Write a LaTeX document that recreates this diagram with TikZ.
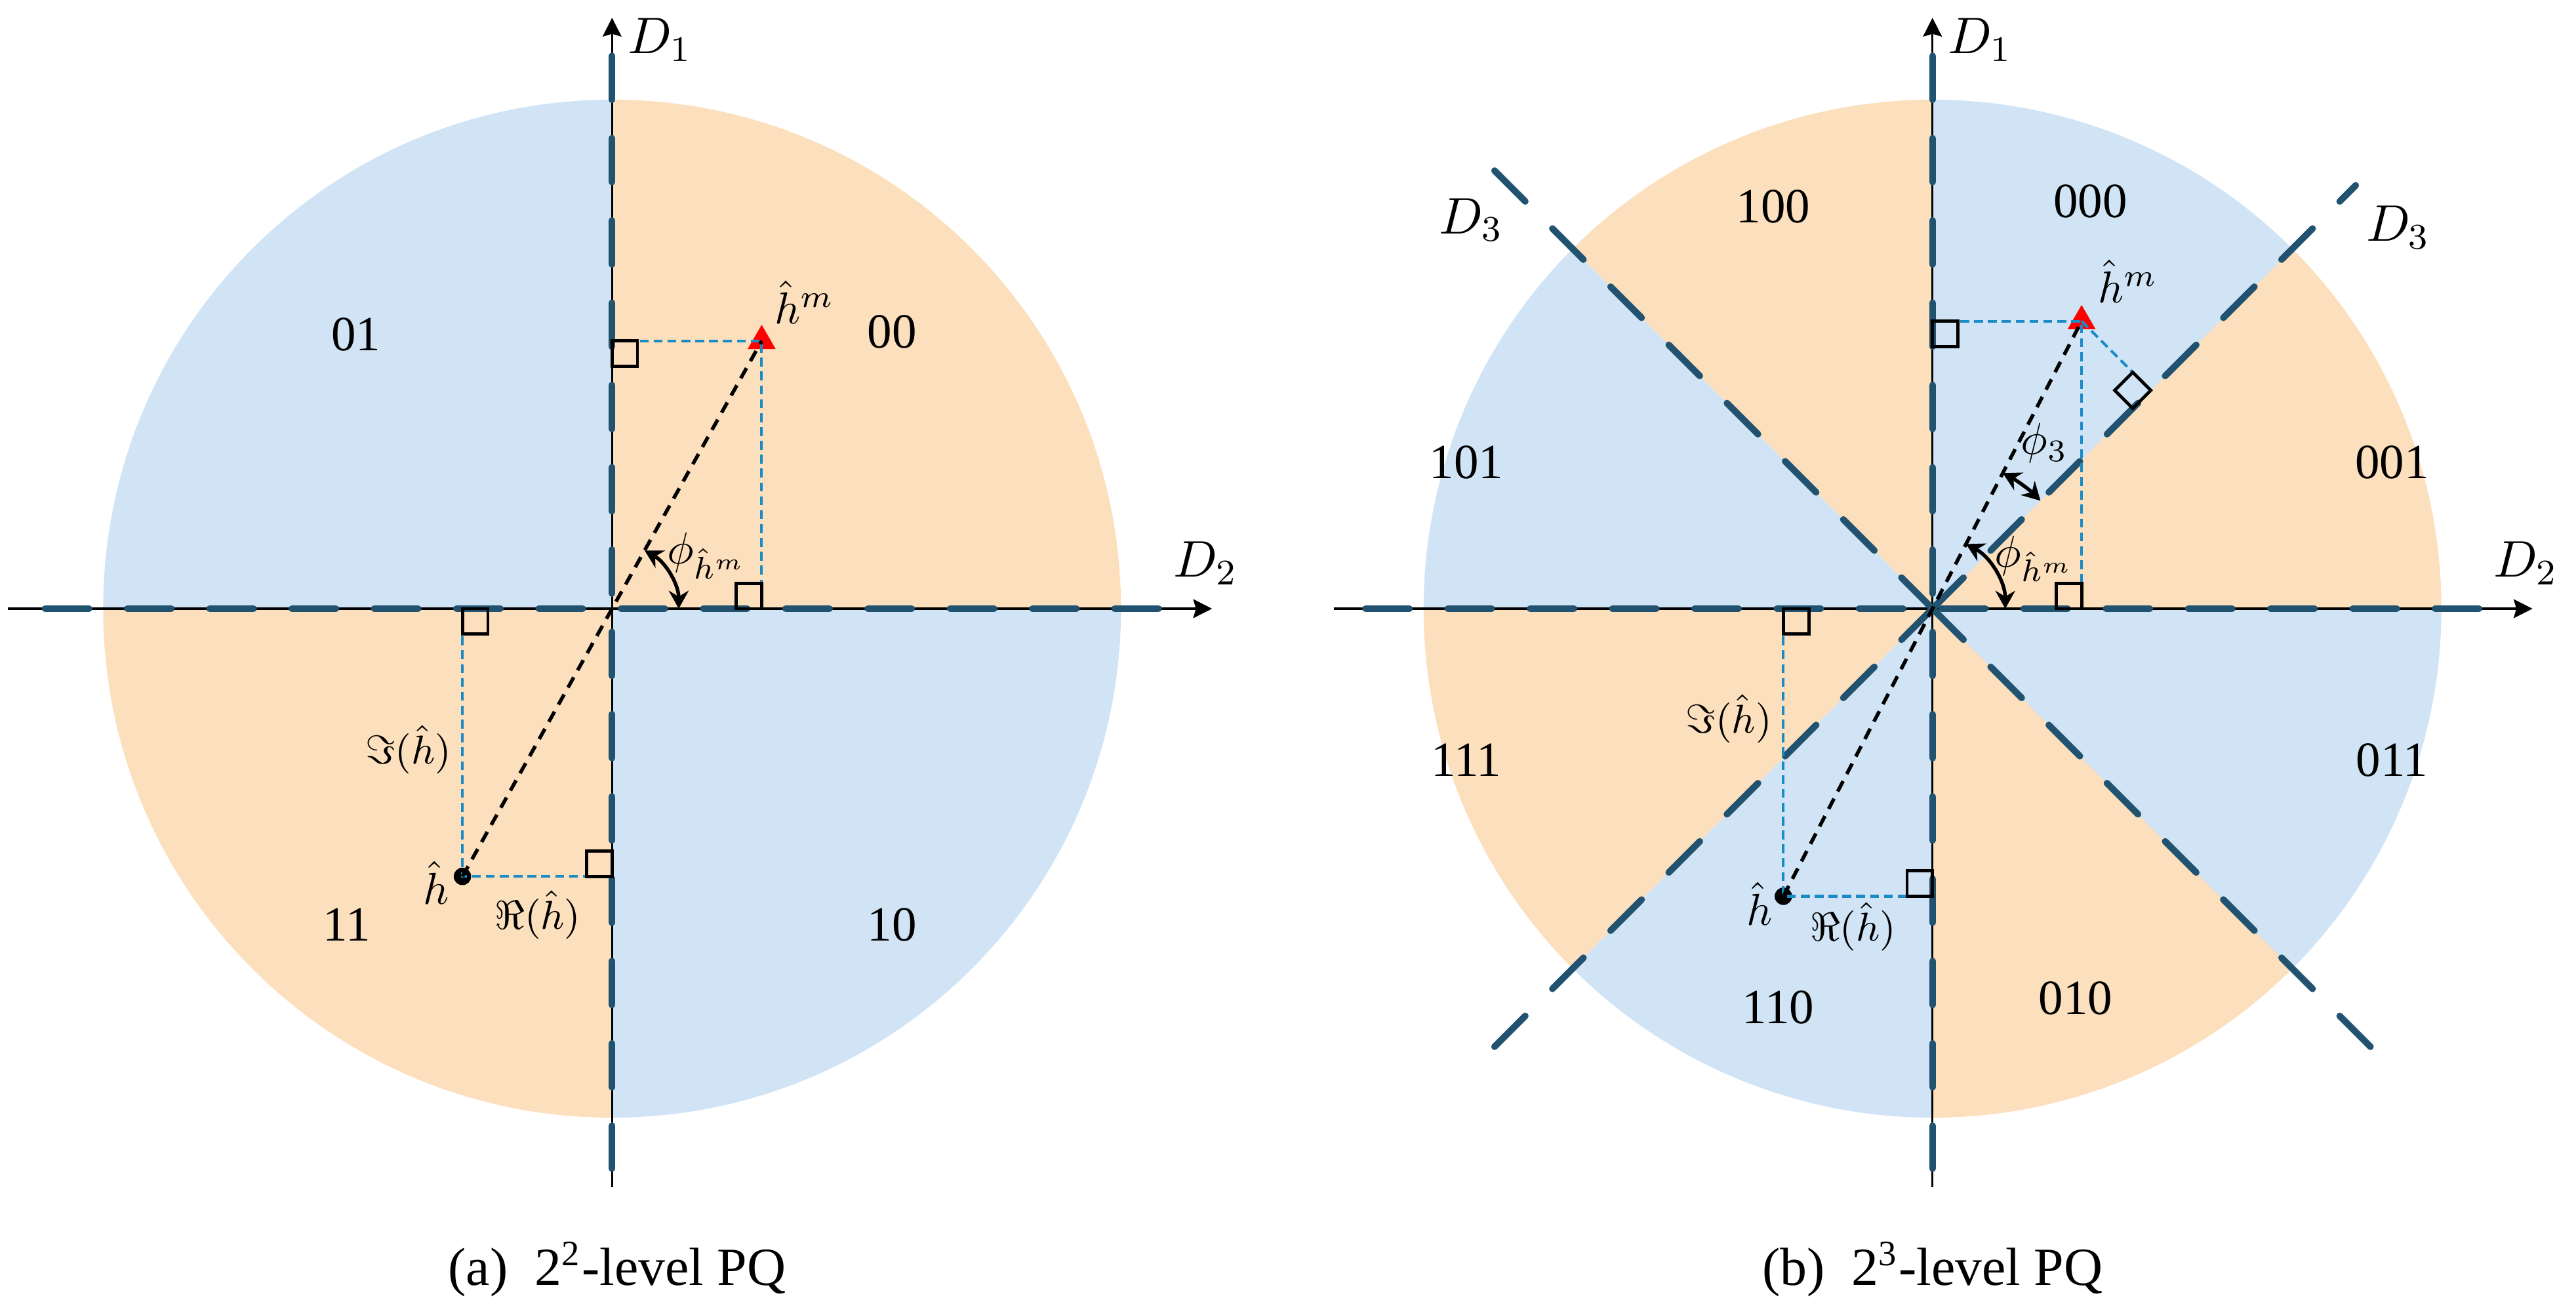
\RequirePackage{fix-cm}
\documentclass[tikz,border=0pt]{standalone}
\usepackage[no-math]{fontspec}
\setmainfont{Liberation Serif}
\usetikzlibrary{arrows.meta,shapes.geometric}

\definecolor{orng}{RGB}{252,223,188}
\definecolor{blu}{RGB}{208,228,245}
\definecolor{navy}{RGB}{33,82,112}
\definecolor{projblue}{RGB}{27,139,198}

\begin{document}
\begin{tikzpicture}[scale=4,
  axis/.style={line width=0.5pt,-{Stealth[length=4.2pt,width=4.2pt,inset=0.6pt]}},
  bound/.style={draw=navy,line width=1.5pt,line cap=round,dash pattern=on 9.8pt off 8.6pt},
  projline/.style={draw=projblue,line width=0.6pt,dash pattern=on 2pt off 1.1pt},
  link/.style={line width=0.8pt,dash pattern=on 2.6pt off 1.8pt},
  rbox/.style={line width=0.7pt},
  angarr/.style={line width=0.8pt,{Stealth[length=4pt,width=4.4pt]}-{Stealth[length=4pt,width=4.4pt]}},
  code/.style={font=\fontsize{11}{13}\selectfont},
  dlab/.style={font=\fontsize{11.5}{13}\selectfont},
  mlab/.style={font=\fontsize{10}{12}\selectfont},
  slab/.style={font=\fontsize{9}{11}\selectfont},
  tri/.style={regular polygon,regular polygon sides=3,fill=red,minimum size=0.254cm,inner sep=0pt},
  dot/.style={circle,fill=black,minimum size=0.137cm,inner sep=0pt}]

\useasboundingbox (-1.2027,-1.357) rectangle (3.8591,1.1959);

% (a) four quadrants
\begin{scope}
\foreach \a/\c in {0/orng,90/blu,180/orng,270/blu}
  \fill[\c] (0,0) -- (\a:1) arc[start angle=\a,delta angle=90,radius=1] -- cycle;

\coordinate (O) at (0,0);
\coordinate (xl) at (-1.187,0);
\coordinate (xr) at (1.179,0);
\coordinate (yb) at (0,-1.137);
\coordinate (yt) at (0,1.161);
\coordinate (hm) at (0.294,0.526);
\coordinate (h) at (-0.294,-0.526);

\draw[axis] (xl) -- (xr);
\draw[axis] (yb) -- (yt);
\draw[bound] (-1.114,0) -- (1.10,0);
\draw[bound] (0,1.086) -- (0,-1.10);

\node[tri] (hmk) at (hm) {};
\node[dot] (hk) at (h) {};

\draw[projline] (hm -| O) -- (hm) -- (hm |- O);
\draw[projline] (h |- O) -- (h) -- (h -| O);
\draw[link] (h) -- (hm);

\draw[rbox] (hm -| O) rectangle ++(0.05,-0.05);
\draw[rbox] (hm |- O) rectangle ++(-0.05,0.05);
\draw[rbox] (h |- O) rectangle ++(0.05,-0.05);
\draw[rbox] (h -| O) rectangle ++(-0.05,0.05);

\draw[angarr] (0:0.131) arc[start angle=0,end angle=60.8,radius=0.131];

\foreach \x/\y/\t in {-0.503/0.539/01,0.550/0.544/00,-0.521/-0.621/11,0.550/-0.621/10}
  \node[code] (c\t) at (\x,\y) {\t};

\node[dlab] (d1) at (0.094,1.118) {$D_1$};
\node[dlab] (d2) at (1.166,0.089) {$D_2$};
\node[mlab] (lhm) at (0.378,0.602) {$\hat{h}^m$};
\node[mlab] (lh) at (-0.346,-0.538) {$\hat{h}$};
\node[mlab] (lphi) at (0.186,0.104) {$\phi_{\hat{h}^m}$};
\node[slab] (lim) at (-0.40,-0.277) {$\Im(\hat{h})$};
\node[slab] (lre) at (-0.146,-0.602) {$\Re(\hat{h})$};

\node[font=\fontsize{12}{14}\selectfont] (capa) at (0.01,-1.298) {(a)\enspace 2\textsuperscript{2}-level PQ};
\end{scope}

% (b) eight sectors
\begin{scope}[shift={(2.5946,0)}]
\foreach \a [count=\i] in {0,45,...,315} {
  \ifodd\i \def\c{orng}\else \def\c{blu}\fi
  \fill[\c] (0,0) -- (\a:1) arc[start angle=\a,delta angle=45,radius=1] -- cycle;
}

\coordinate (O) at (0,0);
\coordinate (xl) at (-1.176,0);
\coordinate (xr) at (1.179,0);
\coordinate (yb) at (0,-1.137);
\coordinate (yt) at (0,1.161);
\coordinate (hm) at (0.293,0.565);
\coordinate (h) at (-0.293,-0.565);
\coordinate (ft) at (0.429,0.429);

\draw[axis] (xl) -- (xr);
\draw[axis] (yb) -- (yt);
\draw[bound] (-1.114,0) -- (1.10,0);
\draw[bound] (0,1.086) -- (0,-1.10);
\foreach \a/\r in {45/1.176,135/1.217,225/1.217,315/1.217}
  \draw[bound] (0,0) -- (\a:\r);

\node[tri] (hmk) at (hm) {};
\node[dot] (hk) at (h) {};

\draw[projline] (hm -| O) -- (hm) -- (hm |- O);
\draw[projline] (hm) -- (ft);
\draw[projline] (h |- O) -- (h) -- (h -| O);
\draw[link] (h) -- (hm);

\draw[rbox] (hm -| O) rectangle ++(0.05,-0.05);
\draw[rbox] (hm |- O) rectangle ++(-0.05,0.05);
\draw[rbox] (h |- O) rectangle ++(0.05,-0.05);
\draw[rbox] (h -| O) rectangle ++(-0.05,0.05);
\draw[rbox] (ft) -- ++(-0.0354,0.0354) -- ++(-0.0354,-0.0354) -- ++(0.0354,-0.0354) -- cycle;

\draw[angarr] (0:0.143) arc[start angle=0,end angle=62.6,radius=0.143];
\draw[angarr] (62.6:0.30) arc[start angle=62.6,end angle=45,radius=0.30];

\foreach \x/\y/\t in {-0.313/0.790/100,0.310/0.800/000,0.903/0.287/001,0.903/-0.297/011,
                      0.281/-0.765/010,-0.303/-0.784/110,-0.916/-0.297/111,-0.916/0.287/101}
  \node[code] (c\t) at (\x,\y) {\t};

\node[dlab] (d1) at (0.094,1.118) {$D_1$};
\node[dlab] (d2) at (1.166,0.089) {$D_2$};
\node[dlab] (d3l) at (-0.907,0.764) {$D_3$};
\node[dlab] (d3r) at (0.915,0.749) {$D_3$};
\node[mlab] (lhm) at (0.384,0.643) {$\hat{h}^m$};
\node[mlab] (lh) at (-0.340,-0.580) {$\hat{h}$};
\node[mlab] (lphi) at (0.200,0.098) {$\phi_{\hat{h}^m}$};
\node[mlab] (lphi3) at (0.220,0.325) {$\phi_3$};
\node[slab] (lim) at (-0.40,-0.216) {$\Im(\hat{h})$};
\node[slab] (lre) at (-0.156,-0.625) {$\Re(\hat{h})$};

\node[font=\fontsize{12}{14}\selectfont] (capb) at (0,-1.298) {(b)\enspace 2\textsuperscript{3}-level PQ};
\end{scope}

\end{tikzpicture}
\end{document}
